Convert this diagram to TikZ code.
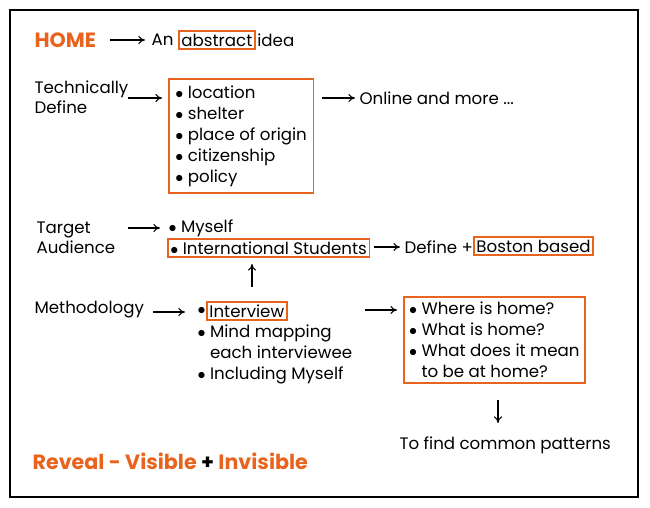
\documentclass[tikz,border=0pt]{standalone}
\usepackage{fontspec}
\setmainfont{Poppins}
\usetikzlibrary{arrows.meta}
\definecolor{homeorange}{HTML}{E8641E}
\tikzset{
  txt/.style={anchor=west, inner sep=1pt, font=\fontsize{12.5}{15}\selectfont},
  boxed/.style={txt, draw=homeorange, line width=1.2pt, inner sep=2pt},
  hot/.style={txt, text=homeorange, font=\fontsize{15.5}{18}\selectfont\bfseries},
  goes/.style={-{To[length=5pt,width=6pt]}, line width=0.8pt}
}
\begin{document}
\begin{tikzpicture}[x=0.0264cm, y=-0.0264cm]
  \useasboundingbox (0,0) rectangle (650,508);
  \draw[line width=0.8pt] (10,10) rectangle (638,497);

  % first line
  \node[hot] (home) at (33,40) {HOME};
  \coordinate (h1) at (110,40); \coordinate (h2) at (145,40);
  \draw[goes] (h1) -- (h2);
  \node[txt] (an) at (150,40) {An};
  \node[boxed] (abs) at (178,40) {abstract};
  \node[txt] (idea) at (abs.east) {idea};

  % technically define
  \node[txt, align=left] (tech) at (33,97) {Technically\\Define};
  \coordinate (t1) at (128,98); \coordinate (t2) at (162,98);
  \draw[goes] (t1) -- (t2);
  \node[boxed, align=left, inner sep=5pt, font=\fontsize{12.5}{15.8}\selectfont] (defs) at (168,136)
    {$\bullet$ location\\$\bullet$ shelter\\$\bullet$ place of origin\\$\bullet$ citizenship\\$\bullet$ policy};
  \coordinate (o1) at (322,98); \coordinate (o2) at (355,98);
  \draw[goes] (o1) -- (o2);
  \node[txt] (online) at (358,98) {Online and more ...};

  % target audience
  \node[txt, align=left] (target) at (35,238) {Target\\Audience};
  \coordinate (a1) at (128,228); \coordinate (a2) at (160,228);
  \draw[goes] (a1) -- (a2);
  \node[txt] (myself) at (167,228) {$\bullet$ Myself};
  \node[boxed] (intl) at (167,248) {$\bullet$ International Students};
  \coordinate (d1) at (374,247); \coordinate (d2) at (400,247);
  \draw[goes] (d1) -- (d2);
  \node[txt] (define) at (403,247) {Define +};
  \node[boxed] (boston) at (473,246) {Boston based};
  \coordinate (u1) at (252,287); \coordinate (u2) at (252,264);
  \draw[goes] (u1) -- (u2);

  % methodology
  \node[txt] (method) at (33,310) {Methodology};
  \coordinate (m1) at (153,312); \coordinate (m2) at (185,312);
  \draw[goes] (m1) -- (m2);
  \node[txt] (bul) at (196,311) {$\bullet$};
  \node[boxed] (interview) at (206,311) {Interview};
  \node[txt, align=left, font=\fontsize{12.5}{15.8}\selectfont] (mind) at (196,354)
    {$\bullet$ Mind mapping\\\phantom{$\bullet$} each interviewee\\$\bullet$ Including Myself};
  \coordinate (q1) at (365,310); \coordinate (q2) at (397,310);
  \draw[goes] (q1) -- (q2);
  \node[boxed, align=left, inner sep=4pt, font=\fontsize{12.5}{15.8}\selectfont] (questions) at (403,340)
    {$\bullet$ Where is home?\\$\bullet$ What is home?\\$\bullet$ What does it mean\\\phantom{$\bullet$} to be at home?};
  \coordinate (v1) at (498,400); \coordinate (v2) at (498,423);
  \draw[goes] (v1) -- (v2);
  \node[txt] (patterns) at (398,445) {To find common patterns};

  % reveal
  \node[hot] (reveal) at (31,461) {Reveal - Visible \textcolor{black}{+} Invisible};
\end{tikzpicture}
\end{document}
